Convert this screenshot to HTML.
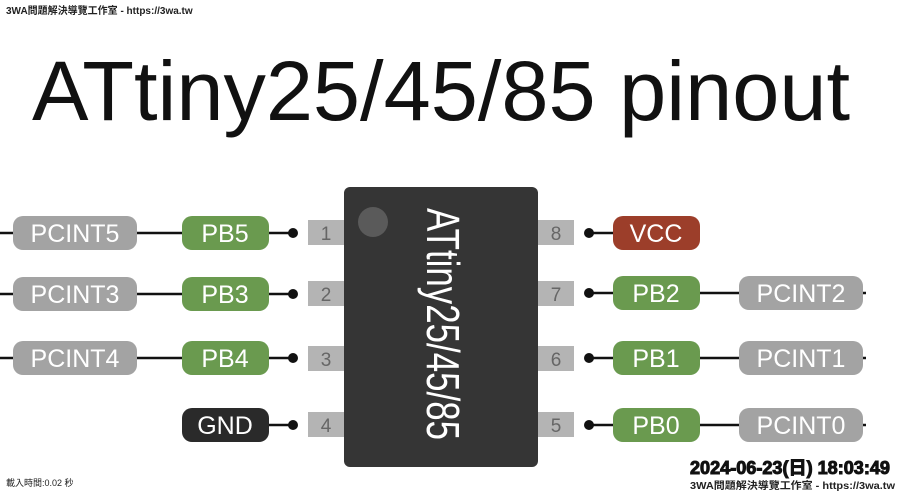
<!DOCTYPE html>
<html><head><meta charset="utf-8"><style>
html,body{margin:0;padding:0;background:#fff;}
svg{display:block;}
text{font-family:"Liberation Sans","Noto Sans CJK TC",sans-serif;}
</style></head><body>
<svg width="900" height="491" viewBox="0 0 900 491" xmlns="http://www.w3.org/2000/svg">
<rect width="900" height="491" fill="#fff"/>
<text x="6" y="14" font-size="10" fill="#222" font-weight="bold">3WA問題解決導覽工作室 - https://3wa.tw</text>
<text x="32" y="120" font-size="84" fill="#111" textLength="818" lengthAdjust="spacingAndGlyphs">ATtiny25/45/85 pinout</text>

<g stroke="#111" stroke-width="2.5">
<line x1="0" y1="233" x2="293" y2="233"/>
<line x1="0" y1="294" x2="293" y2="294"/>
<line x1="0" y1="358" x2="293" y2="358"/>
<line x1="260" y1="425" x2="293" y2="425"/>
<line x1="589" y1="233" x2="620" y2="233"/>
<line x1="589" y1="293" x2="866" y2="293"/>
<line x1="589" y1="358" x2="866" y2="358"/>
<line x1="589" y1="425" x2="866" y2="425"/>
</g>
<g fill="#111">
<circle cx="293" cy="233" r="5"/><circle cx="293" cy="294" r="5"/><circle cx="293" cy="358" r="5"/><circle cx="293" cy="425" r="5"/>
<circle cx="589" cy="233" r="5"/><circle cx="589" cy="293" r="5"/><circle cx="589" cy="358" r="5"/><circle cx="589" cy="425" r="5"/>
</g>

<g fill="#b4b4b4">
<rect x="308" y="220" width="37" height="25"/><rect x="308" y="281" width="37" height="25"/><rect x="308" y="346" width="37" height="25"/><rect x="308" y="412" width="37" height="25"/>
<rect x="537" y="220" width="37" height="25"/><rect x="537" y="281" width="37" height="25"/><rect x="537" y="346" width="37" height="25"/><rect x="537" y="412" width="37" height="25"/>
</g>
<g font-size="19" fill="#666" text-anchor="middle">
<text x="326" y="240">1</text><text x="326" y="301">2</text><text x="326" y="366">3</text><text x="326" y="432">4</text>
<text x="556" y="240">8</text><text x="556" y="301">7</text><text x="556" y="366">6</text><text x="556" y="432">5</text>
</g>

<rect x="344" y="187" width="194" height="280" rx="6" fill="#353535"/>
<circle cx="373" cy="222" r="15" fill="#5a5a5a"/>
<text transform="translate(427,208) rotate(90)" font-size="46" fill="#fff" textLength="232" lengthAdjust="spacingAndGlyphs">ATtiny25/45/85</text>

<g>
<rect x="13" y="216" width="124" height="34" rx="10" fill="#a3a3a3"/>
<rect x="13" y="277" width="124" height="34" rx="10" fill="#a3a3a3"/>
<rect x="13" y="341" width="124" height="34" rx="10" fill="#a3a3a3"/>
<rect x="182" y="216" width="87" height="34" rx="10" fill="#6a9a4f"/>
<rect x="182" y="277" width="87" height="34" rx="10" fill="#6a9a4f"/>
<rect x="182" y="341" width="87" height="34" rx="10" fill="#6a9a4f"/>
<rect x="182" y="408" width="87" height="34" rx="10" fill="#2a2a2a"/>
<rect x="613" y="216" width="87" height="34" rx="10" fill="#9c3e2a"/>
<rect x="613" y="276" width="87" height="34" rx="10" fill="#6a9a4f"/>
<rect x="613" y="341" width="87" height="34" rx="10" fill="#6a9a4f"/>
<rect x="613" y="408" width="87" height="34" rx="10" fill="#6a9a4f"/>
<rect x="739" y="276" width="124" height="34" rx="10" fill="#a3a3a3"/>
<rect x="739" y="341" width="124" height="34" rx="10" fill="#a3a3a3"/>
<rect x="739" y="408" width="124" height="34" rx="10" fill="#a3a3a3"/>
</g>
<g font-size="25" fill="#fff" text-anchor="middle">
<text x="75" y="242">PCINT5</text><text x="75" y="303">PCINT3</text><text x="75" y="367">PCINT4</text>
<text x="225" y="242">PB5</text><text x="225" y="303">PB3</text><text x="225" y="367">PB4</text><text x="225" y="434">GND</text>
<text x="656" y="242">VCC</text><text x="656" y="302">PB2</text><text x="656" y="367">PB1</text><text x="656" y="434">PB0</text>
<text x="801" y="302">PCINT2</text><text x="801" y="367">PCINT1</text><text x="801" y="434">PCINT0</text>
</g>

<text x="6" y="486" font-size="9" fill="#222">載入時間:0.02 秒</text>
<text x="690" y="474" font-size="18" font-weight="bold" fill="#111" stroke="#111" stroke-width="1" textLength="200" lengthAdjust="spacingAndGlyphs">2024-06-23(日) 18:03:49</text>
<text x="690" y="489" font-size="10" font-weight="bold" fill="#222" textLength="205" lengthAdjust="spacingAndGlyphs">3WA問題解決導覽工作室 - https://3wa.tw</text>
</svg>
</body></html>
